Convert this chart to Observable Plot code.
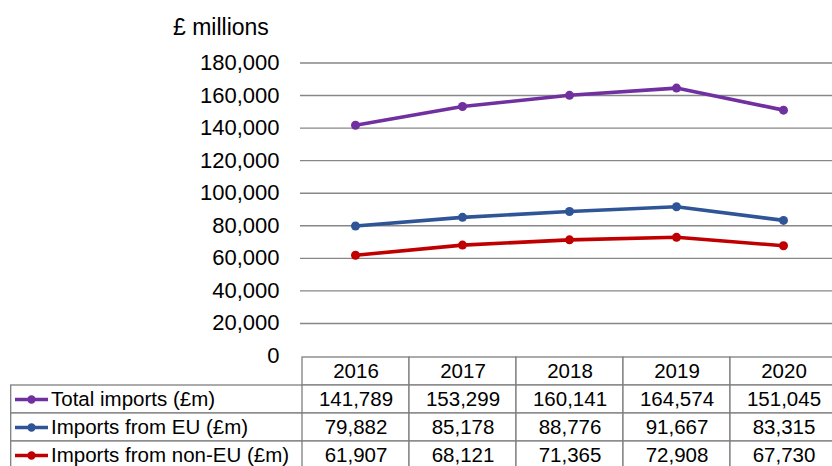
<!DOCTYPE html>
<html>
<head>
<meta charset="utf-8">
<script src="https://cdn.jsdelivr.net/npm/d3@7"></script>
<script src="https://cdn.jsdelivr.net/npm/@observablehq/plot@0.6"></script>
<style>
  html, body { margin: 0; padding: 0; background: #fff; }
  #wrap { position: relative; width: 832px; height: 466px; overflow: hidden; font-family: "Liberation Sans", Arial, sans-serif; }
  #title { position: absolute; left: 173px; top: 14px; font-size: 23px; color: #000; white-space: nowrap; }
  #chart { position: absolute; left: 0; top: 0; }
  #table { position: absolute; left: 0; top: 354px; }
  svg { overflow: hidden; }
</style>
</head>
<body>
<div id="wrap">
  <div id="table"></div>
  <div id="chart"></div>
  <div id="title">£ millions</div>
</div>
<script>
const years = ["2016", "2017", "2018", "2019", "2020"];
const seriesNames = ["Total imports (£m)", "Imports from EU (£m)", "Imports from non-EU (£m)"];
const seriesColors = ["#7030A0", "#2F5597", "#C00000"];
const totalImports = [141789, 153299, 160141, 164574, 151045];
const euImports = [79882, 85178, 88776, 91667, 83315];
const nonEuImports = [61907, 68121, 71365, 72908, 67730];
const yTicks = [0, 20000, 40000, 60000, 80000, 100000, 120000, 140000, 160000, 180000];

const seriesValues = [totalImports, euImports, nonEuImports];
const long = [];
seriesNames.forEach((name, si) => {
  years.forEach((year, yi) => long.push({series: name, year, value: seriesValues[si][yi]}));
});

const fmt = d3.format(",");
const gridColor = "#878787";
const font = {fontFamily: "'Liberation Sans', Arial, sans-serif"};

const chart = Plot.plot({
  width: 832,
  height: 368,
  marginTop: 62.5,
  marginBottom: 12.5,
  marginLeft: 300,
  marginRight: 0,
  style: {...font, fontSize: "22px", color: "#000", background: "transparent"},
  x: {type: "point", domain: years, range: [299.5, 838.5], padding: 0.5, axis: null},
  y: {domain: [0, 180000], axis: null},
  color: {domain: seriesNames, range: seriesColors},
  marks: [
    Plot.gridY(yTicks.filter(d => d > 0), {stroke: gridColor, strokeOpacity: 1, strokeWidth: 1.4}),
    Plot.axisY({ticks: yTicks, tickSize: 0, tickPadding: 21, tickFormat: fmt, fontSize: 22, fill: "#000", label: null}),
    Plot.line(long, {x: "year", y: "value", stroke: "series", z: "series", strokeWidth: 3.6}),
    Plot.dot(long, {x: "year", y: "value", fill: "series", r: 4.5})
  ]
});
document.getElementById("chart").appendChild(chart);

const rowKeys = ["header", ...seriesNames];
const borderColor = "#7f7f7f";
const swatch = {
  draw(context, size) {
    const r = Math.sqrt(size / Math.PI);
    context.moveTo(r, 0);
    context.arc(0, 0, r, 0, 2 * Math.PI);
    context.moveTo(-16.5, -1.8);
    context.lineTo(16.5, -1.8);
    context.lineTo(16.5, 1.8);
    context.lineTo(-16.5, 1.8);
    context.closePath();
  }
};

const table = Plot.plot({
  width: 832,
  height: 117,
  marginTop: 1,
  marginBottom: 1,
  marginLeft: 10.7,
  marginRight: 0,
  style: {...font, fontSize: "20.5px", color: "#000", background: "transparent"},
  x: {type: "band", domain: years, range: [299.5, 838.5], padding: 0, axis: null},
  y: {type: "band", domain: rowKeys, padding: 0, axis: null},
  color: {domain: seriesNames, range: seriesColors},
  marks: [
    Plot.cell(seriesNames, {y: d => d, fill: "#fff", stroke: borderColor, strokeWidth: 1.3}),
    Plot.cell(years, {x: d => d, y: () => "header", fill: "#fff", stroke: borderColor, strokeWidth: 1.3}),
    Plot.cell(long, {x: "year", y: "series", fill: "#fff", stroke: borderColor, strokeWidth: 1.3}),
    Plot.text(years, {x: d => d, y: () => "header", text: d => d, fontSize: 20.5, fill: "#000"}),
    Plot.text(long, {x: "year", y: "series", text: d => fmt(d.value), fontSize: 20.5, fill: "#000"}),
    Plot.text(seriesNames, {y: d => d, text: d => d, frameAnchor: "left", dx: 39.8, textAnchor: "start", fontSize: 20.5, fill: "#000"}),
    Plot.dot(seriesNames, {y: d => d, frameAnchor: "left", dx: 20.3, fill: d => d, r: 4.2, symbol: swatch})
  ]
});
document.getElementById("table").appendChild(table);
</script>
</body>
</html>
